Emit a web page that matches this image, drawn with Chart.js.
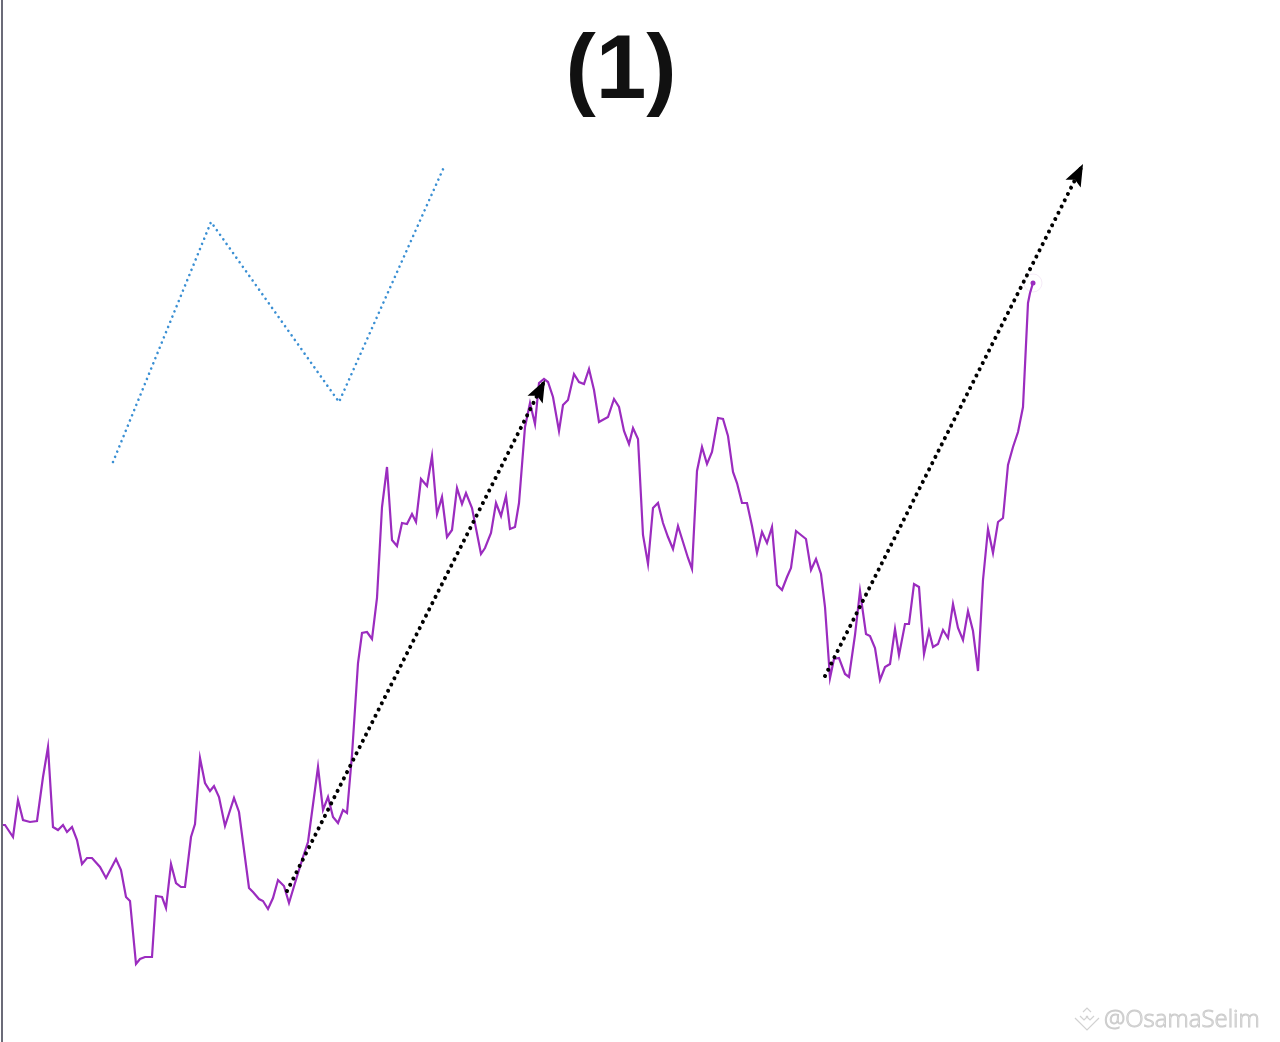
<!DOCTYPE html>
<html>
<head>
<meta charset="utf-8">
<script src="https://cdn.jsdelivr.net/npm/chart.js@4"></script>
<style>
  html, body { margin: 0; padding: 0; background: #ffffff; }
  #wrap { position: relative; width: 1280px; height: 1042px; }
</style>
</head>
<body>
<div id="wrap"><canvas id="c" width="1280" height="1042"></canvas></div>
<script>
// ---- data (time index, price level) ----
const titleText = "(1)";
const watermarkText = "@OsamaSelim";

const days = [
  2,5,13,18,23,30,37,43,48,53,
  58,63,67,72,77,82,87,92,100,106,
  116,121,126,130,136,140,145,152,156,162,
  166,171,176,181,185,191,195,200,205,210,
  214,219,225,234,239,249,253,259,263,268,
  273,278,284,289,295,303,308,318,323,328,
  333,338,343,347,352,358,362,367,372,377,
  382,387,392,397,402,407,412,416,421,427,
  432,437,442,447,452,457,462,466,472,481,
  485,491,496,501,506,510,515,519,525,530,
  535,539,544,548,553,559,563,568,574,579,
  584,589,594,599,608,614,619,624,629,633,
  638,643,648,653,658,663,668,673,678,683,
  688,692,697,702,707,712,718,723,728,733,
  737,742,747,752,757,762,767,772,777,782,
  787,791,796,801,806,811,816,821,825,830,
  834,839,845,849,855,860,866,870,875,880,
  885,890,895,899,905,909,914,919,924,929,
  933,938,943,948,953,958,963,968,973,978,
  983,988,993,998,1003,1008,1013,1018,1023,1028,
  1030,1033
];
const price = [
  217,217,205,242,222,220,221,265,295,215,
  212,217,210,215,202,178,184,184,175,164,
  183,172,145,141,78,83,85,85,146,145,
  134,178,159,155,155,205,218,284,259,251,
  256,245,216,244,230,154,150,143,141,133,
  144,162,156,139,159,185,200,275,232,245,
  225,219,232,229,287,379,409,410,403,444,
  535,575,502,496,519,518,528,520,563,556,
  586,528,545,505,512,554,538,549,534,488,
  494,509,539,526,546,513,515,539,615,639,
  618,659,663,660,645,611,637,642,668,660,
  658,673,652,620,625,643,635,611,598,614,
  603,507,478,534,539,519,505,493,516,500,
  484,473,571,595,578,590,624,623,606,570,
  559,539,539,516,489,510,499,515,457,452,
  465,474,511,507,503,472,483,468,435,364,
  383,384,368,365,407,451,408,406,394,362,
  375,378,413,387,418,418,458,455,388,411,
  395,398,412,404,438,414,402,431,411,371,
  462,513,489,520,524,577,595,610,635,739,
  749,759
];

// schematic zig-zag (wave sketch)
const waveDays  = [113, 211, 339, 444];
const waveLevel = [580, 820, 640, 875];

// projection arrows
const arrow1Days  = [287, 545];
const arrow1Level = [151, 662];
const arrow2Days  = [825, 1083];
const arrow2Level = [366, 878];

const xRange = [0, 1280];
const yRange = [0, 1042];

// ---- helpers ----
const zip = (xs, ys) => xs.map((x, i) => ({ x: x, y: ys[i] }));
const purple = '#9b2cbf';

const decorPlugin = {
  id: 'decor',
  afterDatasetsDraw(chart) {
    const ctx = chart.ctx;
    chart.data.datasets.forEach((ds, i) => {
      if (!ds.isArrow) return;
      const pts = chart.getDatasetMeta(i).data;
      const a = pts[pts.length - 2], b = pts[pts.length - 1];
      const ang = Math.atan2(b.y - a.y, b.x - a.x);
      const L = 22, W = 8.5;
      ctx.save();
      ctx.translate(b.x, b.y);
      ctx.rotate(ang);
      ctx.beginPath();
      ctx.moveTo(0, 0);
      ctx.lineTo(-L, -W);
      ctx.lineTo(-L * 0.8, 0);
      ctx.lineTo(-L, W);
      ctx.closePath();
      ctx.fillStyle = '#000';
      ctx.fill();
      ctx.restore();
    });
  },
  afterDraw(chart) {
    const ctx = chart.ctx;
    ctx.save();
    ctx.fillStyle = '#6b6b78';
    ctx.fillRect(1, 0, 2, chart.height);
    ctx.fillStyle = '#111';
    ctx.font = 'bold 91px "Liberation Sans", Arial, sans-serif';
    ctx.textAlign = 'center';
    ctx.textBaseline = 'alphabetic';
    ctx.fillText(titleText, 621, 98);
    ctx.strokeStyle = '#d2d2d2';
    ctx.lineWidth = 1.2;
    const lx = 1087, ly = 1020;
    ctx.beginPath();
    ctx.moveTo(lx - 12, ly - 2); ctx.lineTo(lx, ly + 10); ctx.lineTo(lx + 12, ly - 2);
    ctx.moveTo(lx - 7, ly - 4); ctx.lineTo(lx - 3, ly); ctx.lineTo(lx + 1, ly - 4);
    ctx.moveTo(lx - 1, ly - 4); ctx.lineTo(lx + 3, ly); ctx.lineTo(lx + 7, ly - 4);
    ctx.moveTo(lx - 4, ly - 8); ctx.lineTo(lx, ly - 12); ctx.lineTo(lx + 4, ly - 8);
    ctx.stroke();
    ctx.font = '300 24px "Open Sans", "DejaVu Sans", sans-serif';
    ctx.textAlign = 'left';
    ctx.textBaseline = 'middle';
    ctx.fillStyle = '#f7f7f7';
    ctx.fillText(watermarkText, 1104, 1020);
    ctx.strokeStyle = '#cdcdcd';
    ctx.lineWidth = 1;
    ctx.strokeText(watermarkText, 1104, 1020);
    ctx.restore();
  }
};

new Chart(document.getElementById('c'), {
  type: 'line',
  data: {
    datasets: [
      {
        label: 'price',
        data: zip(days, price),
        borderColor: purple,
        borderWidth: 2.2,
        pointRadius: 0,
        tension: 0,
        order: 3
      },
      {
        label: 'last',
        data: zip(days.slice(-1), price.slice(-1)),
        showLine: false,
        pointRadius: 9,
        pointBackgroundColor: 'rgba(255,255,255,0)',
        pointBorderColor: 'rgba(190,120,200,0.15)',
        pointBorderWidth: 1,
        order: 4
      },
      {
        label: 'lastDot',
        data: zip(days.slice(-1), price.slice(-1)),
        showLine: false,
        pointRadius: 2.5,
        pointBackgroundColor: purple,
        pointBorderWidth: 0,
        order: 2
      },
      {
        label: 'wave',
        data: zip(waveDays, waveLevel),
        borderColor: '#3a8fd3',
        borderWidth: 2.6,
        borderDash: [0.01, 5.6],
        borderCapStyle: 'round',
        pointRadius: 0,
        tension: 0,
        order: 1
      },
      {
        label: 'arrow1',
        isArrow: true,
        data: zip(arrow1Days, arrow1Level),
        borderColor: '#000',
        borderWidth: 4,
        borderDash: [0.01, 7],
        borderCapStyle: 'round',
        pointRadius: 0,
        order: 0
      },
      {
        label: 'arrow2',
        isArrow: true,
        data: zip(arrow2Days, arrow2Level),
        borderColor: '#000',
        borderWidth: 4,
        borderDash: [0.01, 7],
        borderCapStyle: 'round',
        pointRadius: 0,
        order: 0
      }
    ]
  },
  options: {
    responsive: false,
    animation: false,
    events: [],
    layout: { padding: 0, autoPadding: false },
    plugins: {
      legend: { display: false },
      title: { display: false },
      tooltip: { enabled: false }
    },
    scales: {
      x: { type: 'linear', display: false, min: xRange[0], max: xRange[1] },
      y: { type: 'linear', display: false, min: yRange[0], max: yRange[1] }
    }
  },
  plugins: [decorPlugin]
});
</script>
</body>
</html>
